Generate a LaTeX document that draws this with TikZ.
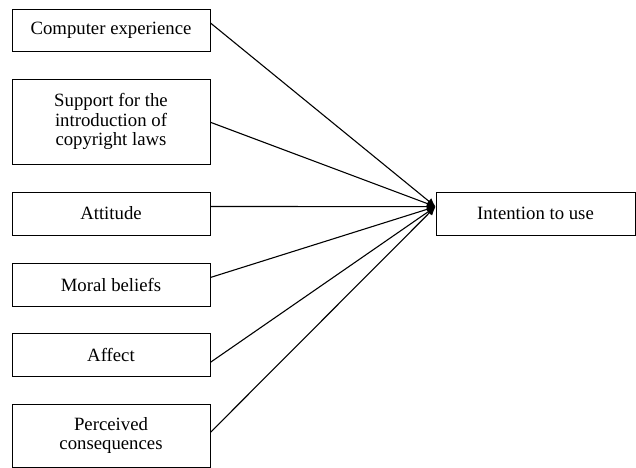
\documentclass[tikz,border=0pt]{standalone}
\usepackage{fontspec}
\setmainfont{Liberation Serif}
\usetikzlibrary{arrows.meta}
\begin{document}
\begin{tikzpicture}[x=0.64pt,y=-0.64pt,
  box/.style={draw,line width=0.6pt,align=center,inner sep=0pt,
    minimum width=126.7pt,font=\fontsize{12}{12.4}\selectfont},
  conn/.style={line width=0.7pt,-{Latex[length=5.5pt,width=5pt]}}]
\useasboundingbox (0,0) rectangle (636,468);
\node[box,minimum height=42*0.64pt] (ce) at (111,30) {Computer experience};
\node[box,minimum height=85*0.64pt] (sc) at (111,121.5) {Support for the\\introduction of\\copyright laws};
\node[box,minimum height=43*0.64pt] (at) at (111,213.5) {Attitude};
\node[box,minimum height=43*0.64pt] (mb) at (111,284.5) {Moral beliefs};
\node[box,minimum height=43*0.64pt] (af) at (111,354.5) {Affect};
\node[box,minimum height=63*0.64pt] (pc) at (111,435.5) {Perceived\\consequences};
\node[box,minimum width=199*0.64pt,minimum height=43*0.64pt] (iu) at (535.5,213.7) {Intention to use};
\coordinate (tip) at ([yshift=4.5pt]iu.west);
\draw[conn] ([yshift=4.5pt]ce.east) -- (tip);
\draw[conn] ([yshift=-0.5pt]sc.east) -- (tip);
\draw[conn] ([yshift=4.5pt]at.east) -- (tip);
\draw[conn] ([yshift=4.5pt]mb.east) -- (tip);
\draw[conn] ([yshift=-5pt]af.east) -- (tip);
\draw[conn] ([yshift=2pt]pc.east) -- (tip);
\end{tikzpicture}
\end{document}
